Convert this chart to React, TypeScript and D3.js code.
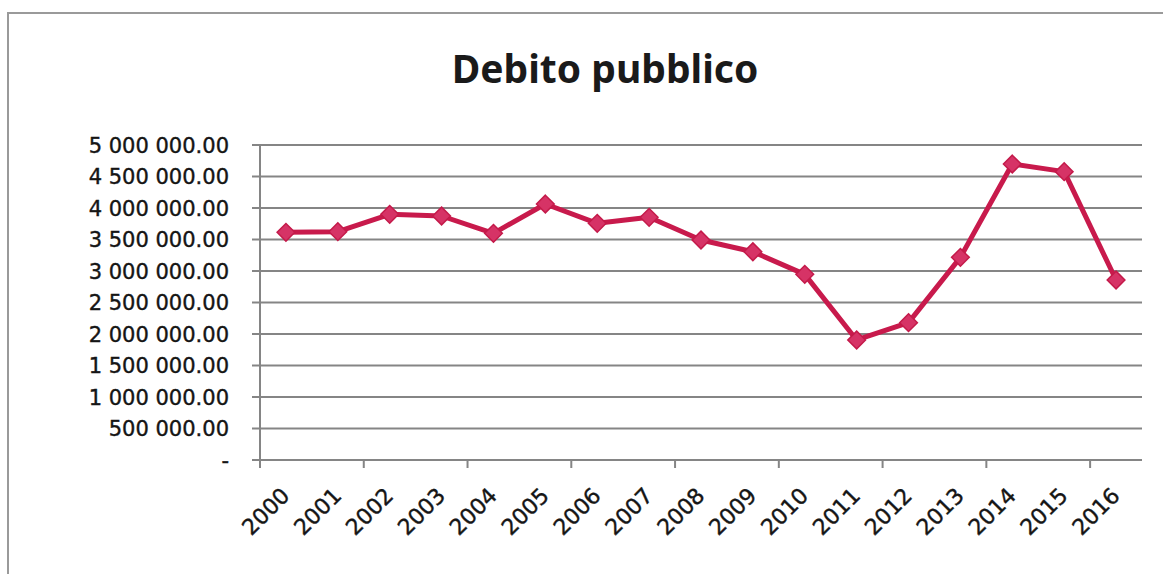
import { useEffect, useRef } from "react";
import * as d3 from "d3";

const years = [
    "2000", "2001", "2002", "2003", "2004", "2005", "2006", "2007", "2008",
    "2009", "2010", "2011", "2012", "2013", "2014", "2015", "2016",
];

const debito = [
    3614000, 3624000, 3900000, 3873000, 3598000, 4063000, 3757000, 3852000, 3492000,
    3306000, 2947000, 1905000, 2180000, 3217000, 4698000, 4577000, 2857000,
];

const yTicks = [0, 500000, 1000000, 1500000, 2000000, 2500000, 3000000, 3500000, 4000000, 4500000, 5000000];

const title = "Debito pubblico";

const formatValue = (v: number) => {
    if (v === 0) return "-";
    const [intPart, dec] = v.toFixed(2).split(".");
    return intPart.replace(/\B(?=(\d{3})+(?!\d))/g, " ") + "." + dec;
};

const App = () => {
    const svgRef = useRef<SVGSVGElement | null>(null);

    useEffect(() => {
        const W = 1163;
        const H = 574;
        const margin = { top: 145, right: 21, bottom: 114, left: 260 };
        const width = W - margin.left - margin.right;
        const height = H - margin.top - margin.bottom;

        const root = d3.select(svgRef.current).attr("width", W).attr("height", H);

        // chart frame
        root.append("rect")
            .attr("x", 8).attr("y", 13)
            .attr("width", W + 10).attr("height", H + 10)
            .attr("fill", "white")
            .attr("stroke", "#9a9a9a")
            .attr("stroke-width", 2);

        root.append("text")
            .attr("x", 605)
            .attr("y", 83)
            .attr("text-anchor", "middle")
            .attr("font-family", "'Noto Sans', sans-serif")
            .attr("font-weight", "bold")
            .attr("font-size", 39)
            .attr("fill", "#1a1a1a")
            .text(title);

        const svg = root.append("g").attr("transform", `translate(${margin.left},${margin.top})`);

        const x = d3.scaleBand().domain(years).range([0, width]);
        const y = d3.scaleLinear().domain([0, 5000000]).range([height, 0]);

        // gridlines + y ticks
        svg.append("g")
            .selectAll("line")
            .data(yTicks)
            .enter()
            .append("line")
            .attr("x1", -8)
            .attr("x2", width)
            .attr("y1", (d) => y(d))
            .attr("y2", (d) => y(d))
            .attr("stroke", "#858585")
            .attr("stroke-width", 2);

        svg.append("g")
            .selectAll("text")
            .data(yTicks)
            .enter()
            .append("text")
            .attr("x", -31)
            .attr("y", (d) => y(d))
            .attr("dy", "0.36em")
            .attr("text-anchor", "end")
            .attr("font-family", "'DejaVu Sans', sans-serif")
            .attr("font-size", 21)
            .attr("fill", "#151515")
            .attr("stroke", "#151515")
            .attr("stroke-width", 0.4)
            .text((d) => formatValue(d));

        // y axis line
        svg.append("line")
            .attr("x1", 0).attr("x2", 0)
            .attr("y1", 0).attr("y2", height + 8)
            .attr("stroke", "#858585")
            .attr("stroke-width", 2);

        // x axis ticks every two categories
        const boundaries = d3.range(0, years.length + 1, 2).map((i) => i * x.step());
        svg.append("g")
            .selectAll("line")
            .data(boundaries)
            .enter()
            .append("line")
            .attr("x1", (d) => d).attr("x2", (d) => d)
            .attr("y1", height).attr("y2", height + 8)
            .attr("stroke", "#858585")
            .attr("stroke-width", 2);

        svg.append("g")
            .selectAll("text")
            .data(years)
            .enter()
            .append("text")
            .attr("transform", (d) => `translate(${(x(d) || 0) + x.bandwidth() / 2 + 5},${height + 37}) rotate(-45)`)
            .attr("text-anchor", "end")
            .attr("font-family", "'DejaVu Sans', sans-serif")
            .attr("font-size", 22)
            .attr("fill", "#151515")
            .attr("stroke", "#151515")
            .attr("stroke-width", 0.4)
            .text((d) => d);

        // line
        const line = d3.line<number>()
            .x((_, i) => (x(years[i]) || 0) + x.bandwidth() / 2)
            .y((d) => y(d));

        svg.append("path")
            .datum(debito)
            .attr("d", line)
            .attr("fill", "none")
            .attr("stroke", "#c81a4c")
            .attr("stroke-width", 5)
            .attr("stroke-linejoin", "round");

        const diamond = d3.symbol().type(d3.symbolDiamond2).size(200);
        svg.selectAll(".dot")
            .data(debito)
            .enter()
            .append("path")
            .attr("class", "dot")
            .attr("d", diamond)
            .attr("transform", (d, i) => `translate(${(x(years[i]) || 0) + x.bandwidth() / 2},${y(d)})`)
            .attr("fill", "#d63366")
            .attr("stroke", "#c41a4a")
            .attr("stroke-width", 1.5);

        return () => {
            root.selectAll("*").remove();
        };
    }, []);

    return <svg ref={svgRef} style={{ position: "absolute", left: 0, top: 0 }}></svg>;
};

export default App;
